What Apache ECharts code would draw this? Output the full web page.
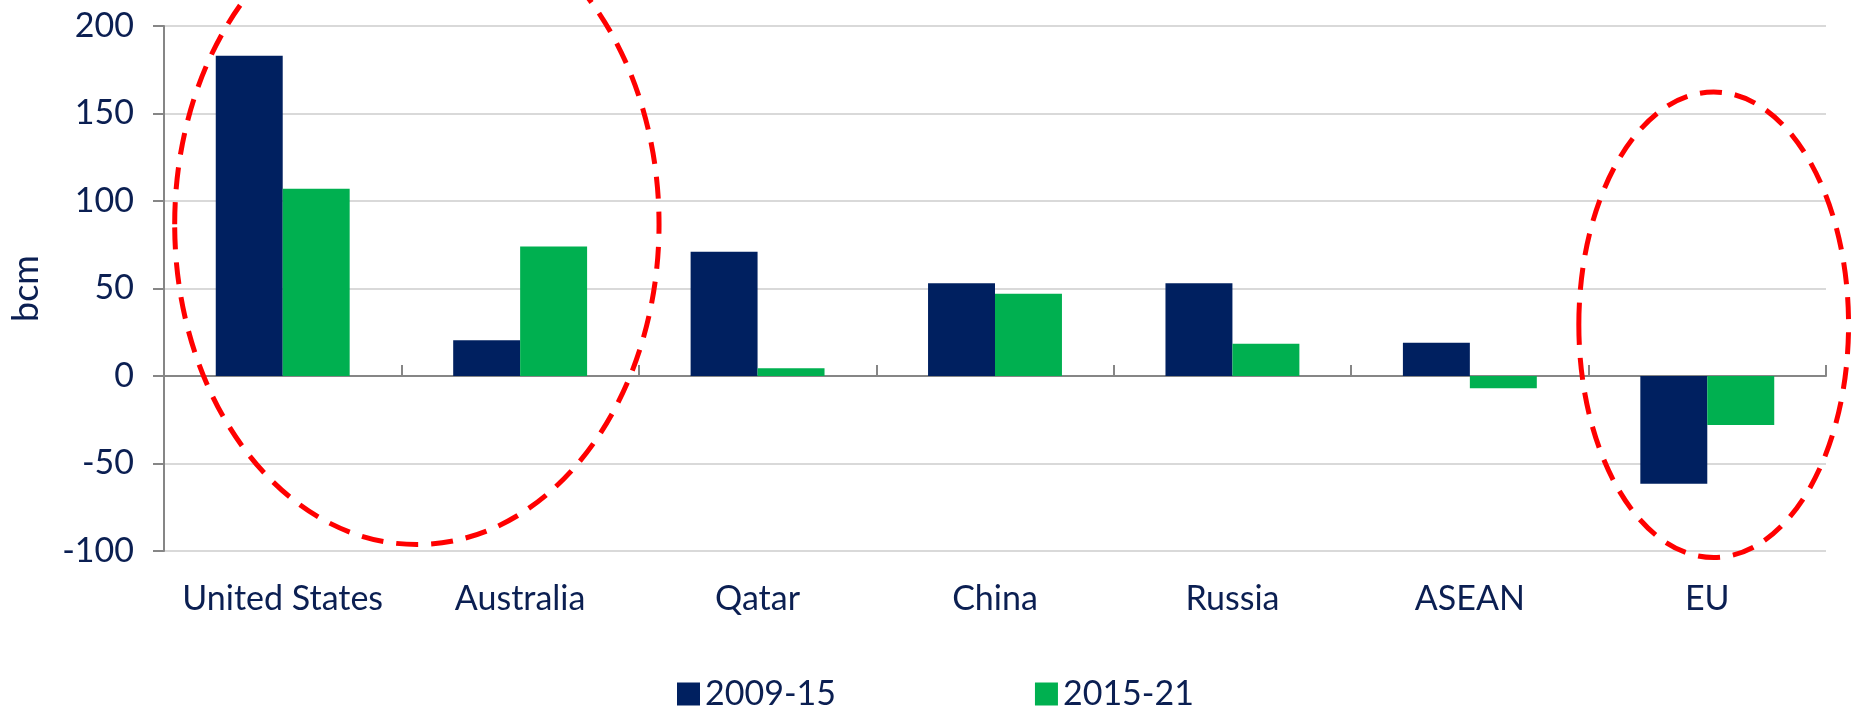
<!DOCTYPE html>
<html>
<head>
<meta charset="utf-8">
<script src="https://cdn.jsdelivr.net/npm/echarts@6/dist/echarts.min.js"></script>
<style>
  html, body { margin: 0; padding: 0; background: #fff; }
  #chart { width: 1851px; height: 707px; }
</style>
</head>
<body>
<div id="chart"></div>
<script>
// data (bcm)
const categories = ['United States', 'Australia', 'Qatar', 'China', 'Russia', 'ASEAN', 'EU'];
const seriesNames = ['2009-15', '2015-21'];
const values0915 = [183, 20.5, 71, 53, 53, 19, -61.5];
const values1521 = [107, 74, 4.5, 47, 18.5, -7, -28];
const yMin = -100, yMax = 200, yStep = 50;

const textColor = '#0b1f52';
const fontFamily = 'Lato, "Liberation Sans", sans-serif';

let chart = echarts.init(document.getElementById('chart'));

let option = {
    animation: false,
    textStyle: { fontFamily: fontFamily, color: textColor },
    grid: { left: 151, right: 25, top: 26, bottom: 156 },
    legend: {
        data: seriesNames,
        left: 672,
        top: 672,
        itemWidth: 23,
        itemHeight: 23,
        itemGap: 199,
        icon: 'rect',
        textStyle: { fontSize: 34, color: textColor, fontFamily: fontFamily }
    },
    xAxis: [{
        // labels along the bottom
        type: 'category',
        data: categories,
        position: 'bottom',
        axisLine: { show: false, onZero: false },
        axisTick: { show: false },
        axisLabel: { fontSize: 34, color: textColor, margin: 31, interval: 0 }
    }, {
        // zero line with boundary ticks
        type: 'category',
        data: categories,
        axisLine: { onZero: true, lineStyle: { color: '#868686', width: 2 } },
        axisTick: { show: true, length: 11, lineStyle: { color: '#868686', width: 2 } },
        axisLabel: { show: false }
    }],
    yAxis: {
        type: 'value',
        min: yMin,
        max: yMax,
        interval: yStep,
        name: 'bcm',
        nameLocation: 'middle',
        nameRotate: 90,
        nameGap: 120,
        nameTextStyle: { fontSize: 36, color: textColor },
        axisLine: { show: true, lineStyle: { color: '#868686', width: 2 } },
        axisTick: { show: true, length: 11, lineStyle: { color: '#868686', width: 2 } },
        axisLabel: { fontSize: 34, color: textColor, margin: 30 },
        splitLine: { lineStyle: { color: '#d9d9d9', width: 2 } }
    },
    series: [{
        name: seriesNames[0],
        type: 'bar',
        data: values0915,
        barGap: 0,
        barCategoryGap: '43.6%',
        itemStyle: { color: '#002060' }
    }, {
        name: seriesNames[1],
        type: 'bar',
        data: values1521,
        barGap: 0,
        barCategoryGap: '43.6%',
        itemStyle: { color: '#00b050' }
    }]
};
chart.setOption(option);

// red dashed highlight ellipses, placed in axis units
function catPx(pos) {
    let a = chart.convertToPixel({ xAxisIndex: 0 }, 0);
    let b = chart.convertToPixel({ xAxisIndex: 0 }, 1);
    return a + pos * (b - a);
}
function valPx(v) {
    return chart.convertToPixel({ yAxisIndex: 0 }, v);
}
function ellipse(cPos, cVal, rCat, rVal) {
    let cx = catPx(cPos), cy = valPx(cVal);
    return {
        type: 'ellipse',
        z: 100,
        shape: { cx: cx, cy: cy, rx: catPx(rCat) - catPx(0), ry: valPx(0) - valPx(rVal) },
        style: { fill: 'none', stroke: '#ff0000', lineWidth: 5, lineDash: [22, 13] }
    };
}
chart.setOption({
    graphic: [
        ellipse(0.565, 86.7, 1.02, 183),
        ellipse(6.027, 29.3, 0.568, 133)
    ]
});
</script>
</body>
</html>
